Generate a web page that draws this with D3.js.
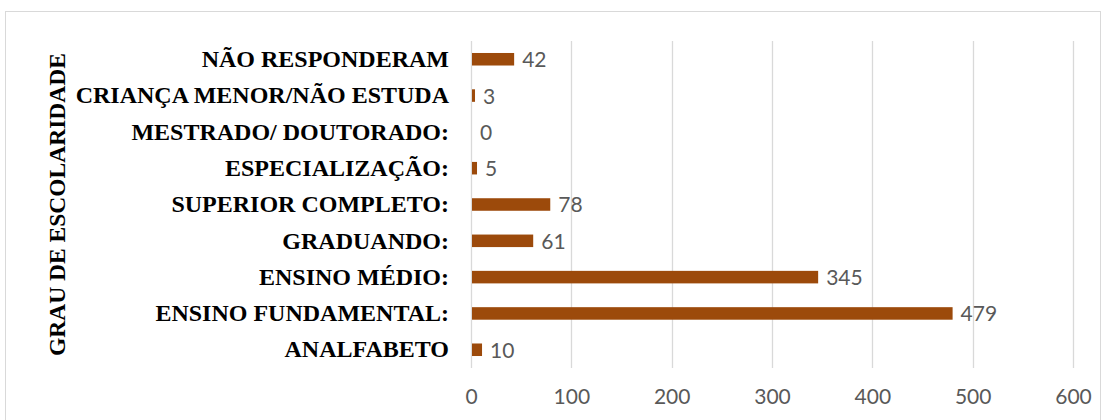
<!DOCTYPE html>
<html>
<head>
<meta charset="utf-8">
<title>Grau de escolaridade</title>
<script src="https://cdn.jsdelivr.net/npm/d3@7"></script>
<style>
  body { margin: 0; background: #fff; }
</style>
</head>
<body>
<div id="chart"></div>
<script>
// categories, top to bottom
var categories = ["NÃO RESPONDERAM", "CRIANÇA MENOR/NÃO ESTUDA", "MESTRADO/ DOUTORADO:",
  "ESPECIALIZAÇÃO:", "SUPERIOR COMPLETO:", "GRADUANDO:", "ENSINO MÉDIO:",
  "ENSINO FUNDAMENTAL:", "ANALFABETO"];
var values = [42, 3, 0, 5, 78, 61, 345, 479, 10];
var ticks = [0, 100, 200, 300, 400, 500, 600];
var axisTitle = "GRAU DE ESCOLARIDADE";

var W = 1105, H = 420;
var margin = {top: 41, right: 32, bottom: 52, left: 471};
var plotH = 327;

var svg = d3.select("#chart").append("svg")
    .attr("width", W)
    .attr("height", H);

// chart frame
svg.append("rect")
    .attr("x", 5.5).attr("y", 11.5)
    .attr("width", W - 10).attr("height", H)
    .attr("fill", "#fff")
    .attr("stroke", "#d9d9d9");

var g = svg.append("g")
    .attr("transform", "translate(" + margin.left + "," + margin.top + ")");

var x = d3.scaleLinear().domain([0, 600]).range([0, 602]);
var y = d3.scaleBand().domain(categories).range([0, plotH]).paddingInner(0.655).paddingOuter(0.33);

// gridlines
g.selectAll(".grid")
  .data(ticks)
  .enter().append("line")
    .attr("x1", function(d) { return Math.round(x(d)) + 0.5; })
    .attr("x2", function(d) { return Math.round(x(d)) + 0.5; })
    .attr("y1", 0).attr("y2", plotH)
    .attr("stroke", "#d9d9d9")
    .attr("stroke-width", 1.3);

// x axis labels
var xAxis = g.append("g")
    .attr("transform", "translate(0," + plotH + ")")
    .call(d3.axisBottom(x).tickValues(ticks).tickSize(0).tickPadding(21));
xAxis.select(".domain").remove();
xAxis.selectAll("text")
    .attr("fill", "#595959")
    .style("font-family", "Lato, 'Open Sans', sans-serif")
    .style("font-size", "21px");

// category labels
var yAxis = g.append("g")
    .call(d3.axisLeft(y).tickSize(0).tickPadding(22));
yAxis.select(".domain").remove();
yAxis.selectAll("text")
    .attr("fill", "#000")
    .style("font-family", "'Liberation Serif', 'Times New Roman', serif")
    .style("font-weight", "bold")
    .style("font-size", "24px");

// bars
g.selectAll(".bar")
  .data(values)
  .enter().append("rect")
    .attr("x", x(0) + 1)
    .attr("y", function(d, i) { return y(categories[i]); })
    .attr("width", function(d) { return x(d); })
    .attr("height", y.bandwidth())
    .attr("fill", "#9c4a0b");

// value labels
g.selectAll(".val")
  .data(values)
  .enter().append("text")
    .attr("x", function(d) { return x(d) + 9; })
    .attr("y", function(d, i) { return y(categories[i]) + y.bandwidth() / 2; })
    .attr("dy", "0.38em")
    .attr("fill", "#595959")
    .style("font-family", "Lato, 'Open Sans', sans-serif")
    .style("font-size", "21px")
    .text(function(d) { return d; });

// axis title
svg.append("text")
    .attr("transform", "translate(65," + (margin.top + plotH / 2) + ") rotate(-90)")
    .attr("text-anchor", "middle")
    .style("font-family", "'Liberation Serif', 'Times New Roman', serif")
    .style("font-weight", "bold")
    .style("font-size", "23.5px")
    .text(axisTitle);
</script>
</body>
</html>
